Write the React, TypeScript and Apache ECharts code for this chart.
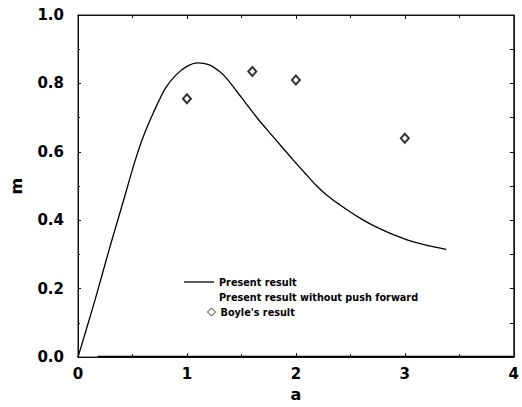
import React, { useEffect, useRef } from "react";
import * as echarts from "echarts";

const curveA = [0, 0.15, 0.3, 0.42, 0.52, 0.6, 0.7, 0.8, 0.9, 1.0, 1.1, 1.2, 1.3, 1.36, 1.45, 1.55, 1.66, 1.77, 1.87, 1.97, 2.08, 2.18, 2.29, 2.4, 2.5, 2.6, 2.69, 2.8, 2.9, 3.02, 3.15, 3.27, 3.38];
const curveM = [0, 0.16, 0.33, 0.46, 0.57, 0.645, 0.72, 0.785, 0.825, 0.85, 0.86, 0.855, 0.835, 0.816, 0.78, 0.738, 0.693, 0.652, 0.615, 0.578, 0.539, 0.504, 0.472, 0.446, 0.424, 0.404, 0.388, 0.371, 0.357, 0.343, 0.331, 0.322, 0.315];

const noPushA = [0.18, 1.0, 2.0, 3.0, 4.0];
const noPushM = [0.002, 0.002, 0.002, 0.002, 0.002];

const boyleA = [1.0, 1.6, 2.0, 3.0];
const boyleM = [0.755, 0.835, 0.81, 0.64];

const xTicks = [0, 1, 2, 3, 4];
const yTicks = [0, 0.2, 0.4, 0.6, 0.8, 1.0];

const seriesNames = ["Present result", "Present result without push forward", "Boyle's result"];

const FONT = "DejaVu Sans";

const mkLine = () => ({ show: true, onZero: false, lineStyle: { color: "#111", width: 1 } });
const mkTick = (len: number) => ({ show: true, inside: true, length: len, lineStyle: { color: "#111", width: 1 } });
const mkMinor = (len: number) => ({ show: true, splitNumber: 2, length: len, lineStyle: { color: "#111", width: 1 } });

export default function App() {
  const ref = useRef<HTMLDivElement>(null);
  useEffect(() => {
    if (!ref.current) return;
    const chart = echarts.init(ref.current, null, { renderer: "svg" });
    const legendText = () => ({ color: "#000", fontFamily: FONT, fontSize: 9.7, fontWeight: "bold" as const });
    chart.setOption({
      animation: false,
      backgroundColor: "#fff",
      grid: {
        left: 72, right: 5, top: 15, bottom: 49,
        containLabel: false,
        show: true, borderColor: "#111", borderWidth: 1, backgroundColor: "transparent",
      },
      xAxis: [
        {
          type: "value",
          min: xTicks[0],
          max: xTicks[xTicks.length - 1],
          interval: 1,
          position: "bottom",
          name: "a",
          nameLocation: "middle",
          nameGap: 28,
          nameTextStyle: { color: "#000", fontFamily: FONT, fontSize: 16, fontWeight: "bold" },
          axisLine: mkLine(),
          axisTick: mkTick(4),
          minorTick: mkMinor(3),
          splitLine: { show: false },
          axisLabel: { color: "#000", fontFamily: FONT, fontSize: 15, fontWeight: "bold", margin: 9, showMaxLabel: true },
        },
        {
          type: "value",
          min: xTicks[0],
          max: xTicks[xTicks.length - 1],
          interval: 1,
          position: "top",
          axisLine: mkLine(),
          axisTick: mkTick(4),
          minorTick: mkMinor(3),
          splitLine: { show: false },
          axisLabel: { show: false },
        },
      ],
      yAxis: [
        {
          type: "value",
          min: yTicks[0],
          max: yTicks[yTicks.length - 1],
          interval: 0.2,
          position: "left",
          name: "m",
          nameLocation: "middle",
          nameGap: 54,
          nameRotate: 90,
          nameTextStyle: { color: "#000", fontFamily: FONT, fontSize: 16, fontWeight: "bold" },
          axisLine: mkLine(),
          axisTick: mkTick(3),
          minorTick: mkMinor(2),
          splitLine: { show: false },
          axisLabel: {
            color: "#000",
            fontFamily: FONT,
            fontSize: 15,
            fontWeight: "bold",
            margin: 14,
            formatter: (v: number) => v.toFixed(1),
          },
        },
        {
          type: "value",
          min: yTicks[0],
          max: yTicks[yTicks.length - 1],
          interval: 0.2,
          position: "right",
          axisLine: mkLine(),
          axisTick: mkTick(4),
          minorTick: mkMinor(4),
          splitLine: { show: false },
          axisLabel: { show: false },
        },
      ],
      legend: [
        {
          left: 184,
          top: 277,
          padding: 0,
          orient: "vertical",
          itemWidth: 30,
          itemHeight: 1.3,
          data: [{ name: seriesNames[0], icon: "rect" }],
          itemStyle: { color: "#000" },
          textStyle: legendText(),
          selectedMode: false,
        },
        {
          left: 184,
          top: 292,
          padding: 0,
          orient: "vertical",
          itemWidth: 30,
          itemHeight: 8,
          data: [{ name: seriesNames[1], icon: "none" }],
          textStyle: legendText(),
          selectedMode: false,
        },
        {
          left: 207,
          top: 307,
          padding: 0,
          orient: "vertical",
          itemWidth: 8,
          itemHeight: 8,
          data: [{ name: seriesNames[2], icon: "diamond" }],
          itemStyle: { color: "#fff", borderColor: "#000", borderWidth: 1 },
          textStyle: legendText(),
          selectedMode: false,
        },
      ],
      series: [
        {
          name: seriesNames[0],
          type: "line",
          data: curveA.map((a, i) => [a, curveM[i]]),
          smooth: 0.25,
          showSymbol: false,
          symbol: "none",
          lineStyle: { color: "#000", width: 1.3 },
          itemStyle: { color: "#000" },
        },
        {
          name: seriesNames[1],
          type: "line",
          data: noPushA.map((a, i) => [a, noPushM[i]]),
          showSymbol: false,
          symbol: "none",
          lineStyle: { color: "#000", width: 1.3 },
          itemStyle: { color: "#000" },
        },
        {
          name: seriesNames[2],
          type: "scatter",
          data: boyleA.map((a, i) => [a, boyleM[i]]),
          symbol: "emptyDiamond",
          symbolSize: [8, 9],
          itemStyle: { color: "#000", borderWidth: 1.2 },
        },
      ],
    });
    return () => chart.dispose();
  }, []);
  return (
    <div
      ref={ref}
      style={{ position: "fixed", left: 0, top: 0, width: 522, height: 407, background: "#fff" }}
    />
  );
}
